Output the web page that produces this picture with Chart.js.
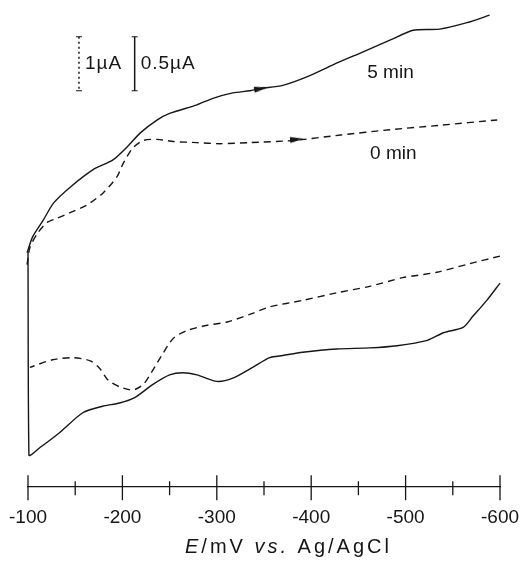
<!DOCTYPE html>
<html lang="en">
<head>
<meta charset="UTF-8">
<title>Cyclic voltammograms</title>
<script src="https://cdn.jsdelivr.net/npm/chart.js"></script>
<style>
  html, body { margin: 0; padding: 0; background: #fff; }
  #box { width: 531px; height: 566px; position: relative; }
</style>
</head>
<body>
<div id="box"><canvas id="cv"></canvas></div>

<script>
// potential E in mV, current I in uA
// 5 min, forward scan (upper branch)
const fwd5E = [-99, -105, -116, -127, -145, -169, -190, -205, -219, -237, -250, -279, -296, -317, -335, -346, -370, -396, -423, -455, -484, -508, -536, -565, -589];
const fwd5I = [2.16, 2.31, 2.46, 2.62, 2.77, 2.93, 3.02, 3.14, 3.27, 3.39, 3.45, 3.53, 3.59, 3.64, 3.66, 3.68, 3.71, 3.79, 3.90, 4.02, 4.13, 4.22, 4.23, 4.29, 4.36];
// 5 min, reverse scan (lower branch, back up to the start)
const rev5E = [-600, -586, -571, -561, -540, -523, -491, -462, -427, -391, -370, -356, -338, -317, -300, -279, -264, -250, -232, -213, -197, -179, -158, -134, -113, -101, -100];
const rev5I = [1.88, 1.72, 1.57, 1.47, 1.42, 1.35, 1.30, 1.28, 1.27, 1.24, 1.21, 1.19, 1.10, 1.00, 0.97, 1.03, 1.05, 1.03, 0.94, 0.82, 0.77, 0.74, 0.68, 0.50, 0.36, 0.29, 2.16];
// 0 min, forward scan
const fwd0E = [-99, -102, -110, -120, -131, -144, -162, -179, -194, -201, -211, -222, -237, -254, -279, -303, -335, -381, -431, -484, -536, -597];
const fwd0I = [2.05, 2.21, 2.34, 2.44, 2.48, 2.53, 2.60, 2.71, 2.86, 2.99, 3.13, 3.20, 3.21, 3.19, 3.18, 3.17, 3.18, 3.20, 3.25, 3.30, 3.34, 3.39];
// 0 min, reverse scan
const rev0E = [-600, -568, -533, -497, -462, -427, -391, -356, -338, -311, -290, -268, -254, -243, -232, -222, -211, -197, -185, -176, -166, -148, -126, -102];
const rev0I = [2.13, 2.06, 1.98, 1.93, 1.85, 1.79, 1.72, 1.66, 1.60, 1.52, 1.49, 1.44, 1.37, 1.23, 1.07, 0.94, 0.89, 0.92, 0.98, 1.09, 1.16, 1.19, 1.17, 1.10];

// scan direction arrows (5 min, 0 min)
const arrowE = [-347, -385];
const arrowI = [3.68, 3.21];

// curve labels
const curveLabels = ['5 min', '0 min'];
const labelE = [-484, -487];
const labelI = [3.83, 3.08];

// scale bars: dotted = 1 uA (0 min), solid = 0.5 uA (5 min)
const barLabels = ['1µA', '0.5µA'];
const barE = [-154, -213];
const barTopI = 4.16;
const barLen = 0.5;

const tickStep = 50;
const labelStep = 100;

const ink = '#161616';
const font = 'Liberation Sans, Arial, sans-serif';

function pts(E, I) {
    return E.map((e, k) => ({ x: e, y: I[k] }));
}

function makeArrow() {
    const c = document.createElement('canvas');
    c.width = 14;
    c.height = 7;
    const g = c.getContext('2d');
    g.fillStyle = ink;
    g.beginPath();
    g.moveTo(0, 0.5);
    g.lineTo(14, 3.5);
    g.lineTo(0, 6.5);
    g.closePath();
    g.fill();
    return c;
}
const arrowImg = makeArrow();

const solid = { borderColor: ink, borderWidth: 1.4, pointRadius: 0, tension: 0.25, fill: false, clip: false };
const dashed = { borderColor: ink, borderWidth: 1.4, pointRadius: 0, tension: 0.25, fill: false, clip: false, borderDash: [7, 5] };

// extra drawing: crossing tick marks, axis title, curve labels, scale bars
const extras = {
    id: 'extras',
    afterDraw(chart) {
        const ctx = chart.ctx;
        const xs = chart.scales.x;
        const ys = chart.scales.y;
        const base = chart.chartArea.bottom;

        ctx.save();
        ctx.strokeStyle = ink;
        ctx.fillStyle = ink;
        ctx.lineWidth = 1.3;

        // ticks cross the axis line
        xs.ticks.forEach(t => {
            const px = xs.getPixelForValue(t.value);
            const major = t.value % labelStep === 0;
            ctx.beginPath();
            ctx.moveTo(px, base - (major ? 11 : 5));
            ctx.lineTo(px, base + (major ? 14 : 9));
            ctx.stroke();
        });

        // axis title with italic parts
        const parts = [['E', 'italic '], ['/mV ', ''], ['vs.', 'italic '], [' Ag/AgCl', '']];
        ctx.letterSpacing = '3px';
        ctx.textBaseline = 'middle';
        ctx.textAlign = 'left';
        let tx = chart.chartArea.left + 157;
        const ty = base + 61;
        parts.forEach(p => {
            ctx.font = p[1] + '20px ' + font;
            ctx.fillText(p[0], tx, ty);
            tx += ctx.measureText(p[0]).width;
        });
        ctx.letterSpacing = '0px';

        // curve labels
        ctx.font = '19px ' + font;
        ctx.textAlign = 'center';
        curveLabels.forEach((s, k) => {
            ctx.fillText(s, xs.getPixelForValue(labelE[k]), ys.getPixelForValue(labelI[k]));
        });

        // scale bars
        const yTop = ys.getPixelForValue(barTopI);
        const yBot = ys.getPixelForValue(barTopI - barLen);
        ctx.textAlign = 'left';
        ctx.letterSpacing = '1px';
        barE.forEach((e, k) => {
            const bx = xs.getPixelForValue(e);
            ctx.lineWidth = 1.5;
            ctx.setLineDash(k === 0 ? [2, 3] : []);
            ctx.beginPath();
            ctx.moveTo(bx, yTop);
            ctx.lineTo(bx, yBot);
            ctx.stroke();
            ctx.setLineDash([]);
            ctx.lineWidth = 1.2;
            ctx.beginPath();
            ctx.moveTo(bx - 3, yTop);
            ctx.lineTo(bx + 3, yTop);
            ctx.moveTo(bx - 3, yBot);
            ctx.lineTo(bx + 3, yBot);
            ctx.stroke();
            ctx.fillText(barLabels[k], bx + 6, (yTop + yBot) / 2);
        });
        ctx.restore();
    }
};

new Chart(document.getElementById('cv'), {
    type: 'line',
    data: {
        datasets: [
            Object.assign({ label: '5 min forward', data: pts(fwd5E, fwd5I) }, solid),
            Object.assign({ label: '5 min reverse', data: pts(rev5E, rev5I) }, solid),
            Object.assign({ label: '0 min forward', data: pts(fwd0E, fwd0I) }, dashed),
            Object.assign({ label: '0 min reverse', data: pts(rev0E, rev0I) }, dashed),
            {
                label: 'scan direction',
                data: pts(arrowE, arrowI),
                showLine: false,
                pointStyle: arrowImg,
                rotation: [-9, -5],
                pointRadius: 5,
                clip: false
            }
        ]
    },
    options: {
        responsive: true,
        maintainAspectRatio: false,
        animation: false,
        layout: { autoPadding: false, padding: { left: 28, right: 31, top: 0, bottom: 37 } },
        plugins: {
            legend: { display: false },
            tooltip: { enabled: false }
        },
        scales: {
            x: {
                type: 'linear',
                reverse: true,
                min: -600,
                max: -100,
                grid: { display: false, drawTicks: true, tickLength: 20 },
                border: { display: true, color: ink, width: 1.3 },
                ticks: {
                    stepSize: tickStep,
                    autoSkip: false,
                    maxRotation: 0,
                    padding: 0,
                    color: ink,
                    font: { family: font, size: 19 },
                    callback: v => (v % labelStep === 0 ? String(v) : '')
                }
            },
            y: {
                display: false,
                min: 0,
                max: 4.5
            }
        }
    },
    plugins: [extras]
});
</script>
</body>
</html>
